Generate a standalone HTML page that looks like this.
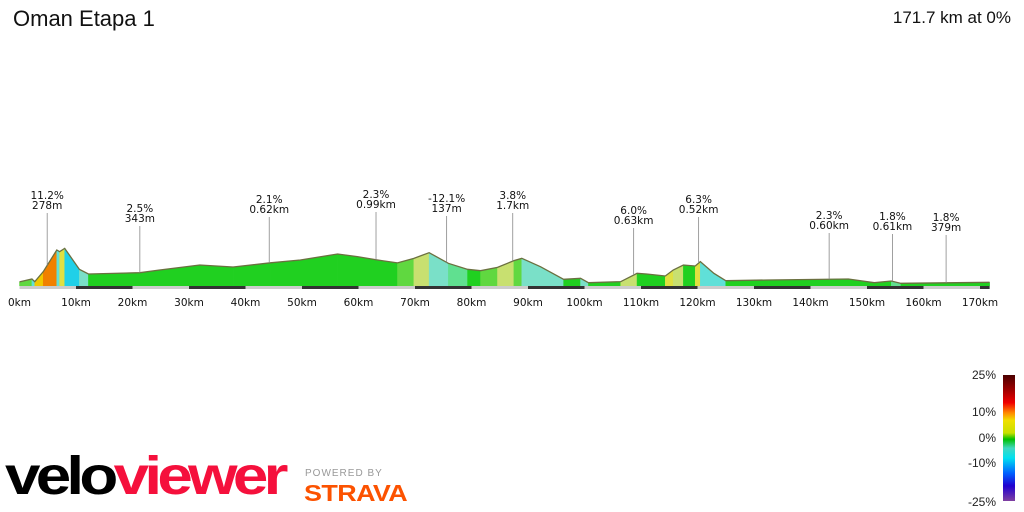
<!DOCTYPE html>
<html><head><meta charset="utf-8"><style>
body{margin:0;width:1024px;height:512px;background:#fff;overflow:hidden;font-family:"Liberation Sans",sans-serif;position:relative}
.t{position:absolute}
</style></head><body>
<div class="t" style="left:13px;top:6px;font-size:22px;color:#111">Oman Etapa 1</div>
<div class="t" style="right:13px;top:8px;font-size:17px;color:#111">171.7 km at 0%</div>
<svg id="chart" width="1024" height="330" style="position:absolute;left:0;top:0"></svg>
<div style="position:absolute;left:1003px;top:375px;width:12px;height:126px;background:linear-gradient(to bottom,#4a0000 0%,#a00000 12%,#f00000 22%,#ff8800 30%,#f0e000 36%,#c8e000 46%,#00c000 51%,#40d8c0 58%,#00e0f0 66%,#0060ff 78%,#2000d0 88%,#8040a0 100%)"></div>
<div class="t" style="right:28px;top:368px;font-size:12px;color:#222">25%</div>
<div class="t" style="right:28px;top:405px;font-size:12px;color:#222">10%</div>
<div class="t" style="right:28px;top:431px;font-size:12px;color:#222">0%</div>
<div class="t" style="right:28px;top:456px;font-size:12px;color:#222">-10%</div>
<div class="t" style="right:28px;top:495px;font-size:12px;color:#222">-25%</div>
<div class="t" style="left:5px;top:446px;font-size:54px;font-weight:bold;letter-spacing:-4px;transform:scaleX(1.18);transform-origin:left;line-height:60px"><span style="color:#000">velo</span><span style="color:#f5103c">viewer</span></div>
<div class="t" style="left:305px;top:468px;font-size:10px;color:#999;letter-spacing:1px">POWERED BY</div>
<div class="t" style="left:304px;top:480px;font-size:23px;font-weight:bold;color:#fc5200;letter-spacing:-0.5px;transform:scaleX(1.17);transform-origin:left">STRAVA</div>
<script>
const kms=[0,2.2,2.7,4.2,6.6,7.1,8.0,10.6,12.2,21.3,24.8,31.9,37.8,44.4,49.7,56.3,59.8,63.4,66.9,69.8,72.5,75.9,79.3,81.6,84.6,87.5,88.9,92.2,96.3,99.3,100.7,106.4,109.3,111,114.3,115.7,117.5,119.6,120.5,122.9,125,132.5,146.7,151.3,154.3,156,171.7];
const elev=[50,84,52,172,432,412,452,200,144,160,192,252,228,278,312,384,352,312,278,332,400,272,200,184,224,304,332,232,80,92,40,52,152,144,120,192,252,240,292,152,64,72,84,40,60,32,44];
const tickKm=[0,10,20,30,40,50,60,70,80,90,100,110,120,130,140,150,160,170];
const annKm=[4.9,21.3,44.2,63.1,75.6,87.3,108.7,120.2,143.3,154.5,164.0];
const annL1=["11.2%","2.5%","2.1%","2.3%","-12.1%","3.8%","6.0%","6.3%","2.3%","1.8%","1.8%"];
const annL2=["278m","343m","0.62km","0.99km","137m","1.7km","0.63km","0.52km","0.60km","0.61km","379m"];
const annY=[199,212,203,198,202,199,214,203,219,220,221];
const svg=document.getElementById('chart'),NS='http://www.w3.org/2000/svg';
const X=k=>19.5+k*5.65, Y=e=>286-e/12, base=286;
function col(g){
 if(g>9)return'#f08000';if(g>6)return'#f0c800';if(g>4)return'#e0e040';if(g>2.5)return'#c8e070';if(g>1.2)return'#60d840';
 if(g>-1.2)return'#20d020';if(g>-2.5)return'#60e090';if(g>-4)return'#7ae0c8';if(g>-7)return'#60e0d8';return'#20d0e8';}
for(let i=0;i<kms.length-1;i++){
 const g=(elev[i+1]-elev[i])/((kms[i+1]-kms[i])*1000)*100;
 const p=document.createElementNS(NS,'polygon');
 p.setAttribute('points',`${X(kms[i])},${base} ${X(kms[i])},${Y(elev[i])} ${X(kms[i+1])},${Y(elev[i+1])} ${X(kms[i+1])},${base}`);
 p.setAttribute('fill',col(g));p.setAttribute('stroke',col(g));p.setAttribute('stroke-width','0.5');
 
 
 svg.appendChild(p);}
const line=document.createElementNS(NS,'polyline');
line.setAttribute('points',kms.map((k,i)=>X(k)+','+Y(elev[i])).join(' '));
line.setAttribute('fill','none');line.setAttribute('stroke','#6b7040');line.setAttribute('stroke-width','1.3');


svg.appendChild(line);
const bar=document.createElementNS(NS,'rect');
bar.setAttribute('x',X(0));bar.setAttribute('y',286);bar.setAttribute('width',X(171.7)-X(0));bar.setAttribute('height',3);bar.setAttribute('fill','#ccc');


svg.appendChild(bar);
for(let k=10;k<172;k+=20){const r=document.createElementNS(NS,'rect');
 r.setAttribute('x',X(k));r.setAttribute('y',286);r.setAttribute('width',X(Math.min(k+10,171.7))-X(k));r.setAttribute('height',3);r.setAttribute('fill','#333');
 
 
 svg.appendChild(r);}
tickKm.forEach(k=>{const t=document.createElementNS(NS,'text');
 t.setAttribute('x',X(k));t.setAttribute('y',306);t.setAttribute('text-anchor','middle');t.setAttribute('font-size','10.5');t.setAttribute('font-family','DejaVu Sans,sans-serif');t.setAttribute('fill','#111');
 t.textContent=k+'km';
 
 
 svg.appendChild(t);});
function elevAt(k){for(let i=0;i<kms.length-1;i++)if(k<=kms[i+1]){const f=(k-kms[i])/(kms[i+1]-kms[i]);return elev[i]+f*(elev[i+1]-elev[i]);}return elev[elev.length-1];}
annKm.forEach((k,i)=>{const x=X(k),y=annY[i];
 const l=document.createElementNS(NS,'line');l.setAttribute('x1',x);l.setAttribute('x2',x);l.setAttribute('y1',y+14);l.setAttribute('y2',Y(elevAt(k)));l.setAttribute('stroke','#888');l.setAttribute('stroke-width','0.8');
 
 
 svg.appendChild(l);
 [annL1[i],annL2[i]].forEach((s,j)=>{const t=document.createElementNS(NS,'text');
  t.setAttribute('x',x);t.setAttribute('y',y+j*10);t.setAttribute('text-anchor','middle');t.setAttribute('font-size','10.5');t.setAttribute('font-family','DejaVu Sans,sans-serif');t.setAttribute('fill','#111');
  t.textContent=s;
  
  
  svg.appendChild(t);});});
</script>
</body></html>
